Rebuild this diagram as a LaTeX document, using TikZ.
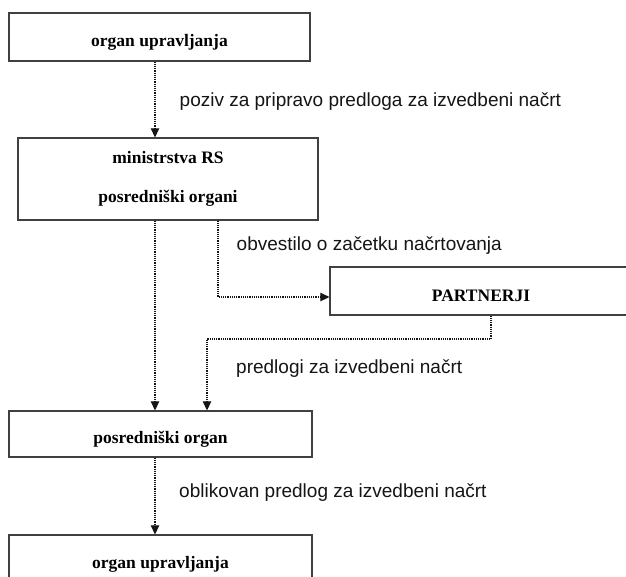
\documentclass[tikz,border=0pt]{standalone}
\usepackage{fontspec}
\setmainfont{Liberation Serif}
\newfontfamily\labelfont{Liberation Sans}
\usetikzlibrary{arrows.meta}
\definecolor{edge}{HTML}{404040}
\definecolor{ink}{HTML}{151515}
\tikzset{
  boxbase/.style={draw=edge, line width=1.3pt, fill=white, inner sep=0pt,
    font=\bfseries\fontsize{17.5}{20}\selectfont, text=black},
  box/.style={boxbase, text height=22pt, text depth=4pt},
  conn/.style={draw=ink, line width=1.2pt, dash pattern=on 1.1pt off 1.1pt,
    -{Triangle[length=9pt,width=8.5pt]}},
  lbl/.style={font=\labelfont\fontsize{19}{22}\selectfont, text=ink,
    anchor=base west, inner sep=0pt}
}
\begin{document}
\begin{tikzpicture}[x=1pt,y=-1pt]
\useasboundingbox (0,0) rectangle (626,576);
\clip (0,0) rectangle (626,576);
\fill[white] (0,0) rectangle (626,576);
% columns / rows
\coordinate (c155) at (155,0);
\coordinate (c218) at (218,0);
\coordinate (c491) at (491,0);
\coordinate (c207) at (207,0);
\coordinate (y297) at (0,297);
\coordinate (y339) at (0,339);
% boxes
\node[box, minimum width=301pt, minimum height=48pt] (b1) at (159.5,37) {organ upravljanja};
\node[boxbase, minimum width=300pt, minimum height=82pt, align=center,
      font=\bfseries\fontsize{17.5}{39.5}\selectfont] (b2) at (168,179)
      {ministrstva RS\\posredniški organi};
\node[box, minimum width=302pt, minimum height=48pt, text height=24pt] (p) at (481,291) {PARTNERJI};
\node[box, minimum width=303pt, minimum height=46pt] (b3) at (160.5,434) {posredniški organ};
\node[box, minimum width=303pt, minimum height=48pt] (b4) at (160.5,559) {organ upravljanja};
% labels
\node[lbl] (l1) at (179.5,106) {poziv za pripravo predloga za izvedbeni načrt};
\node[lbl] (l2) at (236.5,250) {obvestilo o začetku načrtovanja};
\node[lbl] (l3) at (236,373) {predlogi za izvedbeni načrt};
\node[lbl] (l4) at (179,497.5) {oblikovan predlog za izvedbeni načrt};
% connectors
\draw[conn] (b1.south -| c155) -- (b2.north -| c155);
\draw[conn] (b2.south -| c155) -- (b3.north -| c155);
\draw[conn] (b2.south -| c218) |- (p.west |- y297);
\draw[conn] (p.south -| c491) -- (c491 |- y339) -| (b3.north -| c207);
\draw[conn] (b3.south -| c155) -- (b4.north -| c155);
\end{tikzpicture}
\end{document}
